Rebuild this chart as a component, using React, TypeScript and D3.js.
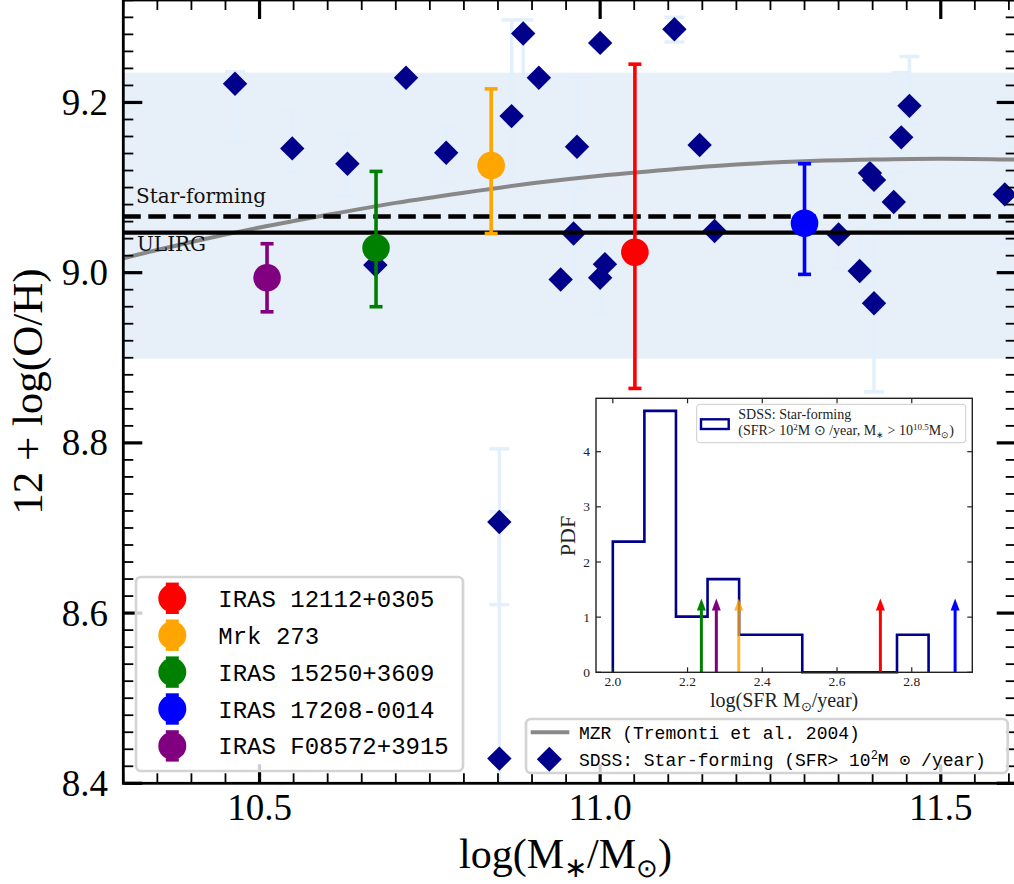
import React from 'react';
import * as d3 from 'd3';

// ---------------- data ----------------
const sdssMass = [10.464, 10.548, 10.629, 10.670, 10.715, 10.774, 10.852, 10.852, 10.870, 10.887, 10.910, 10.942, 10.961, 10.966, 11.000, 11.000, 11.007, 11.109, 11.146, 11.168, 11.350, 11.381, 11.396, 11.402, 11.402, 11.431, 11.442, 11.454, 11.594];
const sdssOH = [9.222, 9.146, 9.128, 9.009, 9.229, 9.141, 8.707, 8.429, 9.184, 9.281, 9.229, 8.992, 9.046, 9.148, 9.270, 8.994, 9.010, 9.286, 9.150, 9.049, 9.045, 9.002, 9.117, 9.109, 8.964, 9.083, 9.159, 9.196, 9.092];
const sdssLo = [9.153, 9.119, 9.089, 9.009, 9.229, 9.106, 8.610, 8.140, 9.103, 9.231, 9.229, 8.992, 8.990, 9.100, 9.270, 8.951, 9.010, 9.271, 9.150, 9.049, 9.005, 8.984, 9.092, 9.109, 8.860, 9.043, 9.141, 9.176, 9.035];
const sdssHi = [9.236, 9.190, 9.162, 9.009, 9.229, 9.170, 8.793, 8.719, 9.297, 9.297, 9.229, 8.992, 9.100, 9.231, 9.270, 9.054, 9.010, 9.300, 9.150, 9.049, 9.072, 9.052, 9.158, 9.109, 9.058, 9.117, 9.235, 9.254, 9.148];

const sourceNames = ['IRAS 12112+0305', 'Mrk 273', 'IRAS 15250+3609', 'IRAS 17208-0014', 'IRAS F08572+3915'];
const sourceColors = ['red', 'orange', 'green', 'blue', 'purple'];
const sourceMass = [11.051, 10.840, 10.671, 11.300, 10.511];
const sourceOH = [9.024, 9.126, 9.029, 9.058, 8.994];
const sourceLo = [8.864, 9.046, 8.960, 8.998, 8.954];
const sourceHi = [9.245, 9.216, 9.119, 9.128, 9.034];
const sourceSFR = [2.716, 2.337, 2.237, 2.916, 2.277];

const mzrMass = [10.3, 10.4, 10.5, 10.6, 10.7, 10.8, 10.9, 11.0, 11.1, 11.2, 11.3, 11.4, 11.5, 11.61];
const mzrOH = [9.017, 9.036, 9.053, 9.068, 9.082, 9.094, 9.105, 9.114, 9.121, 9.127, 9.131, 9.133, 9.134, 9.133];

const starFormingOH = 9.066;
const ulirgOH = 9.047;
const bandOH = [8.899, 9.235];

const xTicks = [10.5, 11.0, 11.5];
const yTicks = [8.4, 8.6, 8.8, 9.0, 9.2];

const histEdges = [2.0, 2.0845, 2.169, 2.2535, 2.338, 2.4225, 2.507, 2.5915, 2.676, 2.7605, 2.845];
const histDensity = [2.37, 4.74, 1.01, 1.69, 0.68, 0.68, 0, 0, 0, 0.68];
const arrowTop = 1.34;
const insetXTicks = [2.0, 2.2, 2.4, 2.6, 2.8];
const insetYTicks = [0, 1, 2, 3, 4];

// ---------------- layout ----------------
const W = 1014, H = 884;
const M = { left: 123.3, right: 1015.7, top: 0, bottom: 783.3 };
const I = { left: 596, right: 972.3, top: 398.3, bottom: 672.3 };
const serif = "'Liberation Serif', 'Times New Roman', serif";
const mono = "'Liberation Mono', 'Courier New', monospace";
const navy = '#00008B';

const x = d3.scaleLinear().domain([10.3, 11.61]).range([M.left, M.right]);
const y = d3.scaleLinear().domain([8.4, 9.3204]).range([M.bottom, M.top]);
const ix = d3.scaleLinear().domain([1.955, 2.962]).range([I.left, I.right]);
const iy = d3.scaleLinear().domain([0, 4.968]).range([I.bottom, I.top]);

const xMinor = d3.range(10.3, 11.62, 0.05).filter(v => !xTicks.some(t => Math.abs(t - v) < 1e-6));
const yMinor = d3.range(8.4, 9.33, 0.02).filter(v => !yTicks.some(t => Math.abs(t - v) < 1e-6));

const diamond = (s: number) => `M0,${-s}L${s},0L0,${s}L${-s},0Z`;

function ErrBar({ cx, lo, hi, color, half, sw }: any) {
  return (
    <g stroke={color} strokeWidth={sw}>
      <line x1={cx} x2={cx} y1={lo} y2={hi} />
      <line x1={cx - half} x2={cx + half} y1={lo} y2={lo} />
      <line x1={cx - half} x2={cx + half} y1={hi} y2={hi} />
    </g>
  );
}

export default function App() {
  const mzrLine = d3.line<number>().x((_, i) => x(mzrMass[i])).y(d => y(d)).curve(d3.curveNatural)(mzrOH) || '';

  const histPts: [number, number][] = [[histEdges[0], 0]];
  histDensity.forEach((h, i) => {
    histPts.push([histEdges[i], h]);
    histPts.push([histEdges[i + 1], h]);
  });
  histPts.push([histEdges[histEdges.length - 1], 0]);
  const histPath = d3.line<[number, number]>().x(d => ix(d[0])).y(d => iy(d[1]))(histPts) || '';

  return (
    <div style={{ position: 'absolute', left: 0, top: 0 }}>
      <svg width={W} height={H} style={{ display: 'block', background: 'white' }}>
        <defs>
          <clipPath id="mainclip"><rect x={M.left} y={M.top} width={M.right - M.left} height={M.bottom - M.top} /></clipPath>
        </defs>
        {/* band */}
        <rect x={M.left} width={M.right - M.left} y={y(bandOH[1])} height={y(bandOH[0]) - y(bandOH[1])} fill="#e7eff8" />

        <g clipPath="url(#mainclip)">
          {/* SDSS error bars */}
          {sdssMass.map((m, i) => sdssHi[i] - sdssLo[i] > 0.001 ? (
            <ErrBar key={'eb' + i} cx={x(m)} lo={y(sdssLo[i])} hi={y(sdssHi[i])} color="#e3f0fc" half={10} sw={3.5} />
          ) : null)}
          {/* SDSS diamonds */}
          {sdssMass.map((m, i) => (
            <path key={'d' + i} d={diamond(12.2)} transform={`translate(${x(m)},${y(sdssOH[i])})`} fill={navy} />
          ))}
          {/* MZR */}
          <path d={mzrLine} fill="none" stroke="#888888" strokeWidth={4} />
          {/* reference lines */}
          <line x1={M.left} x2={M.right} y1={y(starFormingOH)} y2={y(starFormingOH)} stroke="black" strokeWidth={4.5} strokeDasharray="17.5,7.5" />
          <line x1={M.left} x2={M.right} y1={y(ulirgOH)} y2={y(ulirgOH)} stroke="black" strokeWidth={4.2} />
          {/* named sources */}
          {sourceMass.map((m, i) => (
            <g key={'s' + i}>
              <ErrBar cx={x(m)} lo={y(sourceLo[i])} hi={y(sourceHi[i])} color={sourceColors[i]} half={6.5} sw={3.6} />
              <circle cx={x(m)} cy={y(sourceOH[i])} r={13.8} fill={sourceColors[i]} />
            </g>
          ))}
        </g>

        <text x={136} y={203} fontFamily="'DejaVu Serif', serif" fontSize={20} fill="#111">Star-forming</text>
        <text x={137} y={251} fontFamily="'DejaVu Serif', serif" fontSize={20} fill="#111">ULIRG</text>

        {/* main axes frame */}
        <g stroke="black">
          <rect x={M.left} y={M.top} width={M.right - M.left} height={M.bottom - M.top} fill="none" strokeWidth={2.8} />
          {xTicks.map(t => (
            <g key={'xt' + t} strokeWidth={3.2}>
              <line x1={x(t)} x2={x(t)} y1={M.bottom} y2={M.bottom - 19} />
              <line x1={x(t)} x2={x(t)} y1={M.top} y2={M.top + 19} />
            </g>
          ))}
          {xMinor.map(t => (
            <g key={'xm' + t} strokeWidth={1.8}>
              <line x1={x(t)} x2={x(t)} y1={M.bottom} y2={M.bottom - 10} />
              <line x1={x(t)} x2={x(t)} y1={M.top} y2={M.top + 10} />
            </g>
          ))}
          {yTicks.map(t => (
            <g key={'yt' + t} strokeWidth={3.2}>
              <line x1={M.left} x2={M.left + 19} y1={y(t)} y2={y(t)} />
              <line x1={M.right} x2={M.right - 19} y1={y(t)} y2={y(t)} />
            </g>
          ))}
          {yMinor.map(t => (
            <g key={'ym' + t} strokeWidth={1.8}>
              <line x1={M.left} x2={M.left + 10} y1={y(t)} y2={y(t)} />
              <line x1={M.right} x2={M.right - 10} y1={y(t)} y2={y(t)} />
            </g>
          ))}
        </g>
        {xTicks.map(t => (
          <text key={'xl' + t} x={x(t)} y={820} textAnchor="middle" fontFamily={serif} fontSize={37}>{t.toFixed(1)}</text>
        ))}
        {yTicks.map(t => (
          <text key={'yl' + t} x={108} y={y(t) + 12.5} textAnchor="end" fontFamily={serif} fontSize={37}>{t.toFixed(1)}</text>
        ))}
        <text x={(M.left + M.right) / 2 - 4} y={868} textAnchor="middle" fontFamily={serif} fontSize={42}>
          log(M<tspan fontSize={28} dy={9}>∗</tspan><tspan dy={-9}>/M</tspan><tspan fontSize={26} dy={9}>⊙</tspan><tspan dy={-9}>)</tspan>
        </text>
        <text transform={`translate(42,${(M.top + M.bottom) / 2}) rotate(-90)`} textAnchor="middle" fontFamily={serif} fontSize={43}>12 + log(O/H)</text>

        {/* legend 1 */}
        <rect x={136} y={577} width={327} height={194} rx={5} fill="white" fillOpacity={0.8} stroke="#d4d4d4" strokeWidth={2.7} />
        {sourceNames.map((n, i) => {
          const cy = 598.3 + i * 36.9;
          return (
            <g key={'l1' + i}>
              <ErrBar cx={172.3} lo={cy + 14} hi={cy - 14} color={sourceColors[i]} half={6.5} sw={3.4} />
              <circle cx={172.3} cy={cy} r={14} fill={sourceColors[i]} />
              <text x={218.3} y={cy + 8.5} fontFamily={mono} fontSize={24}>{n}</text>
            </g>
          );
        })}

        {/* legend 2 */}
        <rect x={526} y={719} width={481.7} height={54} rx={5} fill="white" fillOpacity={0.8} stroke="#d4d4d4" strokeWidth={2.7} />
        <line x1={530.7} x2={569.3} y1={732.3} y2={732.3} stroke="#888888" strokeWidth={4} />
        <path d={diamond(12.5)} transform="translate(549.3,759.3)" fill={navy} />
        <text x={579} y={738.5} fontFamily={mono} fontSize={18}>MZR (Tremonti et al. 2004)</text>
        <text x={579} y={765.5} fontFamily={mono} fontSize={18}>
          SDSS: Star-forming (SFR&gt; 10<tspan fontSize={12} dy={-7}>2</tspan><tspan dy={7}>M ⊙ /year)</tspan>
        </text>

        {/* inset */}
        <rect x={I.left} y={I.top} width={I.right - I.left} height={I.bottom - I.top} fill="white" />
        <path d={histPath} fill="none" stroke={navy} strokeWidth={2.6} />
        {sourceSFR.map((s, i) => {
          const ax = ix(s);
          const tip = iy(arrowTop);
          return (
            <g key={'ar' + i} opacity={sourceColors[i] === 'orange' ? 0.8 : 1}>
              <line x1={ax} x2={ax} y1={I.bottom} y2={tip + 10} stroke={sourceColors[i]} strokeWidth={3} />
              <path d={`M${ax},${tip}L${ax + 4.5},${tip + 12}L${ax - 4.5},${tip + 12}Z`} fill={sourceColors[i]} />
            </g>
          );
        })}
        <g stroke="#222">
          <rect x={I.left} y={I.top} width={I.right - I.left} height={I.bottom - I.top} fill="none" strokeWidth={1.4} />
          {insetXTicks.map(t => (
            <g key={'ixt' + t} strokeWidth={1.2}>
              <line x1={ix(t)} x2={ix(t)} y1={I.bottom} y2={I.bottom - 5} />
              <line x1={ix(t)} x2={ix(t)} y1={I.top} y2={I.top + 5} />
            </g>
          ))}
          {insetYTicks.map(t => (
            <g key={'iyt' + t} strokeWidth={1.2}>
              <line x1={I.left} x2={I.left + 5} y1={iy(t)} y2={iy(t)} />
              <line x1={I.right} x2={I.right - 5} y1={iy(t)} y2={iy(t)} />
            </g>
          ))}
        </g>
        {insetXTicks.map(t => (
          <text key={'ixl' + t} x={ix(t)} y={686} textAnchor="middle" fontFamily={serif} fontSize={13.5} fill="#222">{t.toFixed(1)}</text>
        ))}
        {insetYTicks.map(t => (
          <text key={'iyl' + t} x={590} y={iy(t) + 4.6} textAnchor="end" fontFamily={serif} fontSize={13.5} fill="#222">{t}</text>
        ))}
        <text transform={`translate(575,536) rotate(-90)`} textAnchor="middle" fontFamily={serif} fontSize={22} fill="#222">PDF</text>
        <text x={(I.left + I.right) / 2} y={707} textAnchor="middle" fontFamily={serif} fontSize={20} fill="#222">
          log(SFR M<tspan fontSize={13} dy={4}>⊙</tspan><tspan dy={-4}>/year)</tspan>
        </text>
        {/* inset legend */}
        <rect x={696.7} y={404.3} width={269} height={38.4} rx={3} fill="white" fillOpacity={0.8} stroke="#cccccc" strokeWidth={1} />
        <rect x={701} y={419.3} width={27.7} height={9.7} fill="white" stroke={navy} strokeWidth={2.4} />
        <text x={738.3} y={418.5} fontFamily={serif} fontSize={14} fill="#222">SDSS: Star-forming</text>
        <text x={738.3} y={434.5} fontFamily={serif} fontSize={14} fill="#222">
          (SFR&gt; 10<tspan fontSize={9} dy={-5}>2</tspan><tspan dy={5}>M ⊙ /year, M</tspan><tspan fontSize={9} dy={3}>∗</tspan><tspan dy={-3}> &gt; 10</tspan><tspan fontSize={9} dy={-5}>10.5</tspan><tspan dy={5}>M</tspan><tspan fontSize={9} dy={3}>⊙</tspan><tspan dy={-3}>)</tspan>
        </text>
      </svg>
    </div>
  );
}
